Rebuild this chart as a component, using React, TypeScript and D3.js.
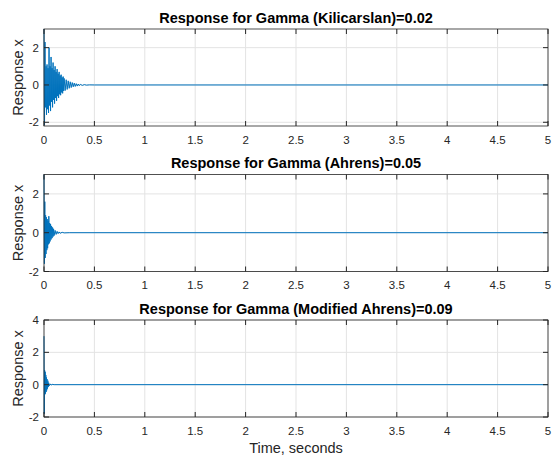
import { useEffect, useRef } from "react";
import * as d3 from "d3";

// peaks of the response (time in s, response x)
const kTime = [
  0, 0.005, 0.01, 0.015, 0.02, 0.025, 0.03, 0.035, 0.04, 0.045, 0.05, 0.055, 0.06, 0.065, 0.07, 0.075, 0.08,
  0.085, 0.09, 0.095, 0.1, 0.105, 0.11, 0.115, 0.12, 0.125, 0.13, 0.135, 0.14, 0.145, 0.15, 0.155, 0.16, 0.165,
  0.17, 0.175, 0.18, 0.185, 0.19, 0.195, 0.2, 0.21, 0.22, 0.23, 0.24, 0.25, 0.26, 0.27, 0.28, 0.29, 0.3, 0.31,
  0.32, 0.33, 0.34, 0.35, 0.36, 0.38, 0.4, 0.42, 0.45, 0.5, 5,
];
const kValue = [
  3, -2.15, 2.3, -1.2, 1.0, -1.6, 1.1, -1.3, 0.9, -1.5, 2.0, -1.1, 1.0, -1.4, 1.5, -0.9, 0.9,
  -1.2, 1.2, -0.8, 0.8, -1.0, 1.0, -0.7, 0.7, -0.85, 0.85, -0.6, 0.6, -0.7, 0.7, -0.5, 0.5, -0.55,
  0.55, -0.4, 0.4, -0.45, 0.45, -0.32, 0.35, -0.3, 0.28, -0.24, 0.22, -0.18, 0.17, -0.14, 0.13, -0.1, 0.1, -0.08,
  0.07, -0.06, 0.05, -0.04, 0.035, -0.025, 0.02, -0.01, 0.005, 0, 0,
];

const aTime = [
  0, 0.004, 0.008, 0.012, 0.016, 0.02, 0.024, 0.028, 0.032, 0.036, 0.04, 0.044, 0.048, 0.052, 0.056, 0.06, 0.065,
  0.07, 0.075, 0.08, 0.085, 0.09, 0.095, 0.1, 0.11, 0.12, 0.13, 0.14, 0.15, 0.16, 0.18, 0.2, 0.25, 5,
];
const aValue = [
  3, -1.6, 1.6, -1.3, 0.9, -1.1, 0.8, -0.9, 0.7, -0.8, 0.6, -0.6, 0.85, -0.55, 0.5, -0.45, 0.45,
  -0.35, 0.35, -0.28, 0.27, -0.2, 0.2, -0.15, 0.12, -0.09, 0.07, -0.05, 0.04, -0.03, 0.02, -0.01, 0, 0,
];

const mTime = [
  0, 0.003, 0.006, 0.009, 0.012, 0.015, 0.018, 0.021, 0.024, 0.027, 0.03, 0.034, 0.038, 0.042, 0.046, 0.05, 0.06,
  0.07, 0.08, 0.1, 5,
];
const mValue = [
  3, -1.8, 0.9, -0.6, 0.8, -0.55, 0.6, -0.45, 0.45, -0.35, 0.35, -0.25, 0.25, -0.15, 0.12, -0.08, 0.05,
  -0.03, 0.02, 0, 0,
];

const xTicks = [0, 0.5, 1, 1.5, 2, 2.5, 3, 3.5, 4, 4.5, 5];

const panels = [
  { title: "Response for Gamma (Kilicarslan)=0.02", time: kTime, value: kValue, yMin: -2.2, yMax: 3, yTicks: [-2, 0, 2] },
  { title: "Response for Gamma (Ahrens)=0.05", time: aTime, value: aValue, yMin: -2, yMax: 3, yTicks: [-2, 0, 2] },
  { title: "Response for Gamma (Modified Ahrens)=0.09", time: mTime, value: mValue, yMin: -2, yMax: 4, yTicks: [-2, 0, 2, 4] },
];

const App = () => {
  const ref = useRef(null);

  useEffect(() => {
    const width = 555;
    const height = 457;
    const left = 44;
    const right = 548;
    const tops = [29, 174.5, 320];
    const plotH = 97;
    const font = "'Liberation Sans', Arial, Helvetica, sans-serif";
    const ink = "#262626";

    d3.select(ref.current).selectAll("svg").remove();

    const svg = d3
      .select(ref.current)
      .append("svg")
      .attr("width", width)
      .attr("height", height)
      .style("position", "fixed")
      .style("left", "0px")
      .style("top", "0px")
      .style("background", "#fff")
      .style("font-family", font);

    const x = d3.scaleLinear().domain([0, 5]).range([left, right]);

    panels.forEach((p, i) => {
      const top = tops[i];
      const bottom = top + plotH;
      const y = d3.scaleLinear().domain([p.yMin, p.yMax]).range([bottom, top]);
      const g = svg.append("g");

      // grid
      g.selectAll(".gx")
        .data(xTicks)
        .enter()
        .append("line")
        .attr("x1", (d) => x(d))
        .attr("x2", (d) => x(d))
        .attr("y1", top)
        .attr("y2", bottom)
        .attr("stroke", "#e3e3e3")
        .attr("stroke-width", 1);
      g.selectAll(".gy")
        .data(p.yTicks)
        .enter()
        .append("line")
        .attr("x1", left)
        .attr("x2", right)
        .attr("y1", (d) => y(d))
        .attr("y2", (d) => y(d))
        .attr("stroke", "#e3e3e3")
        .attr("stroke-width", 1);

      // response line
      const line = d3
        .line<number>()
        .x((_, j) => x(p.time[j]))
        .y((d) => y(d));
      g.append("path")
        .attr("d", line(p.value))
        .attr("fill", "none")
        .attr("stroke", "#0072BD")
        .attr("stroke-width", 1);

      // box
      g.append("rect")
        .attr("x", left)
        .attr("y", top)
        .attr("width", right - left)
        .attr("height", plotH)
        .attr("fill", "none")
        .attr("stroke", ink)
        .attr("stroke-width", 0.8);

      // ticks (inward, all four sides)
      const tl = 5;
      xTicks.forEach((t) => {
        g.append("line").attr("x1", x(t)).attr("x2", x(t)).attr("y1", bottom).attr("y2", bottom - tl).attr("stroke", ink);
        g.append("line").attr("x1", x(t)).attr("x2", x(t)).attr("y1", top).attr("y2", top + tl).attr("stroke", ink);
      });
      p.yTicks.forEach((t) => {
        g.append("line").attr("x1", left).attr("x2", left + tl).attr("y1", y(t)).attr("y2", y(t)).attr("stroke", ink);
        g.append("line").attr("x1", right).attr("x2", right - tl).attr("y1", y(t)).attr("y2", y(t)).attr("stroke", ink);
      });

      // tick labels
      g.selectAll(".xl")
        .data(xTicks)
        .enter()
        .append("text")
        .attr("x", (d) => x(d))
        .attr("y", bottom + 17.5)
        .attr("text-anchor", "middle")
        .attr("font-size", 11.5)
        .attr("fill", ink)
        .text((d) => String(d));
      g.selectAll(".yl")
        .data(p.yTicks)
        .enter()
        .append("text")
        .attr("x", left - 5)
        .attr("y", (d) => y(d) + 4)
        .attr("text-anchor", "end")
        .attr("font-size", 11.5)
        .attr("fill", ink)
        .text((d) => String(d));

      // title
      g.append("text")
        .attr("x", (left + right) / 2)
        .attr("y", top - 6.5)
        .attr("text-anchor", "middle")
        .attr("font-size", 14.5)
        .attr("font-weight", "bold")
        .attr("fill", "#000")
        .text(p.title);

      // y label
      g.append("text")
        .attr("transform", `translate(23, ${(top + bottom) / 2}) rotate(-90)`)
        .attr("text-anchor", "middle")
        .attr("font-size", 14.5)
        .attr("fill", ink)
        .text("Response x");
    });

    svg
      .append("text")
      .attr("x", (left + right) / 2)
      .attr("y", tops[2] + plotH + 36)
      .attr("text-anchor", "middle")
      .attr("font-size", 14.5)
      .attr("fill", ink)
      .text("Time, seconds");
  }, []);

  return <div ref={ref}></div>;
};

export default App;
